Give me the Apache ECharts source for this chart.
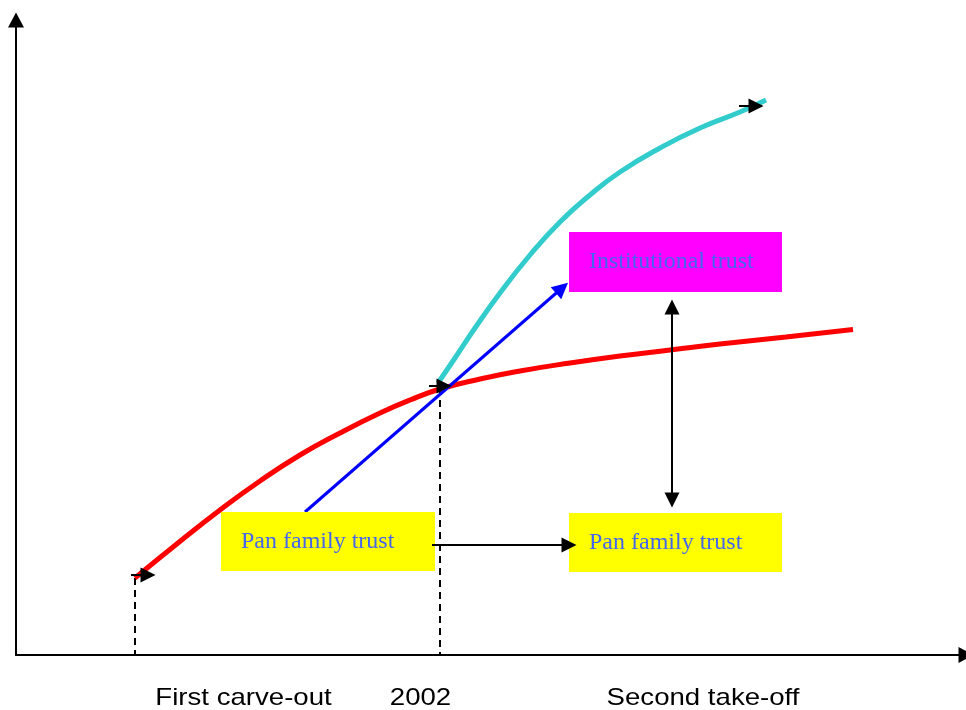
<!DOCTYPE html>
<html>
<head>
<meta charset="utf-8">
<script src="https://cdn.jsdelivr.net/npm/echarts@6/dist/echarts.min.js"></script>
<style>
  html, body { margin: 0; padding: 0; background: #fff; }
  #main { width: 966px; height: 710px; }
</style>
</head>
<body>
<div id="main"></div>
<script>
  // Konzeptdiagramm: x/y in Achseneinheiten (Ursprung links unten)
  var redCurve = [[119,77],[162,112],[204,145],[244,174],[284,200],[324,222],[364,242],[394,255],
                  [424,266],[464,276],[504,284],[554,292],[604,299],[654,305],[704,311],[770,318],[837,325.5]];
  var cyanCurve = [[422,272],[439,297],[459,327],[484,362],[514,400],[544,433],[574,460],
                   [604,483],[644,507],[684,527],[724,543],[750,555]];
  // kleine Pfeile an den Kurven
  var smallArrows = [[[115,80],[132,80]], [[413,269],[428,269]], [[723,549],[740,549]]];
  var blueArrow = [[289,143],[546,367]];
  var flatArrow = [[416,110],[553,110]];
  var doubleArrow = [[656,348],[656,155]];
  var dashLines = [[[119,77],[119,0]], [[424,267],[424,0]]];
  // Kästen: x1, y1, x2, y2, Text, Farbe
  var boxes = [
    [205, 84, 419, 143, 'Pan family trust', '#ffff00'],
    [553, 83, 766, 142, 'Pan family trust', '#ffff00'],
    [553, 363, 766, 423, 'Institutional trust', '#ff00ff']
  ];
  var bottomLabels = [[227.5, -43, 'First carve-out'], [404.5, -43, '2002'], [687, -43, 'Second take-off']];

  var myChart = echarts.init(document.getElementById('main'));

  function toLines(list) {
    return list.map(function (c) { return { coords: c }; });
  }

  myChart.setOption({
    animation: false,
    grid: { left: 16, right: 0, top: 20, bottom: 55 },
    xAxis: {
      type: 'value', min: 0, max: 950,
      axisLine: { show: true, lineStyle: { color: '#000', width: 2 }, symbol: ['none', 'triangle'], symbolSize: [16, 15] },
      axisTick: { show: false }, axisLabel: { show: false }, splitLine: { show: false }
    },
    yAxis: {
      type: 'value', min: 0, max: 635,
      axisLine: { show: true, lineStyle: { color: '#000', width: 2 }, symbol: ['none', 'triangle'], symbolSize: [16, 15] },
      axisTick: { show: false }, axisLabel: { show: false }, splitLine: { show: false }
    },
    series: [
      {
        type: 'lines', coordinateSystem: 'cartesian2d', z: 1,
        lineStyle: { color: '#000', width: 2, type: [7, 5], opacity: 1 },
        symbol: 'none',
        data: toLines(dashLines)
      },
      {
        type: 'line', data: redCurve, smooth: 0.5, showSymbol: false, z: 2,
        lineStyle: { color: '#ff0000', width: 5 }
      },
      {
        type: 'line', data: cyanCurve, smooth: true, showSymbol: false, z: 2,
        lineStyle: { color: '#33cccc', width: 5 }
      },
      {
        type: 'lines', coordinateSystem: 'cartesian2d', z: 3,
        lineStyle: { color: '#0000ff', width: 3, opacity: 1 },
        symbol: ['none', 'triangle'], symbolSize: 16,
        data: toLines([blueArrow])
      },
      {
        type: 'custom', z: 4,
        data: boxes,
        renderItem: function (params, api) {
          var p1 = api.coord([api.value(0), api.value(3)]);
          var p2 = api.coord([api.value(2), api.value(1)]);
          var b = boxes[params.dataIndex];
          return {
            type: 'group',
            children: [
              { type: 'rect', shape: { x: p1[0], y: p1[1], width: p2[0] - p1[0], height: p2[1] - p1[1] },
                style: { fill: b[5] } },
              { type: 'text', x: p1[0] + 20, y: (p1[1] + p2[1]) / 2,
                style: { text: b[4], fill: '#4466ee', font: '24px "Liberation Serif", "Times New Roman", serif',
                         textAlign: 'left', textVerticalAlign: 'middle' } }
            ]
          };
        }
      },
      {
        type: 'lines', coordinateSystem: 'cartesian2d', z: 5,
        lineStyle: { color: '#000', width: 2, opacity: 1 },
        symbol: ['none', 'triangle'], symbolSize: 15,
        data: toLines(smallArrows.concat([flatArrow]))
      },
      {
        type: 'lines', coordinateSystem: 'cartesian2d', z: 5,
        lineStyle: { color: '#000', width: 2, opacity: 1 },
        symbol: ['triangle', 'triangle'], symbolSize: 15,
        data: toLines([doubleArrow])
      },
      {
        type: 'custom', z: 5,
        data: bottomLabels,
        renderItem: function (params, api) {
          var p = api.coord([api.value(0), api.value(1)]);
          return {
            type: 'text', x: p[0], y: p[1], scaleX: 1.15,
            style: { text: bottomLabels[params.dataIndex][2], fill: '#000',
                     font: '24px "Liberation Sans", Arial, sans-serif',
                     textAlign: 'center', textVerticalAlign: 'middle' }
          };
        }
      }
    ]
  });
</script>
</body>
</html>
